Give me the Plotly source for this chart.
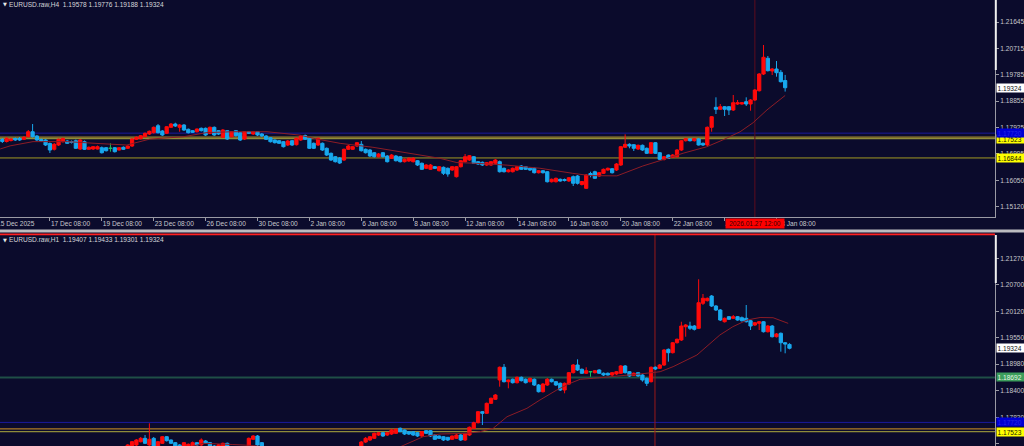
import plotly.graph_objects as go

# ---------------- H4 pane data (EURUSD.raw, H4) ----------------
h4_open = [1.17512, 1.17495, 1.17424, 1.17460, 1.17530, 1.17530, 1.17502, 1.17594, 1.17770, 1.17618,
           1.17495, 1.17477, 1.17354, 1.17149, 1.17301, 1.17417, 1.17441, 1.17424, 1.17452, 1.17159,
           1.17417, 1.17149, 1.17159, 1.17159, 1.17206, 1.17206, 1.17184, 1.17206, 1.17124, 1.17220,
           1.17184, 1.17265, 1.17502, 1.17523, 1.17594, 1.17689, 1.17735, 1.17982, 1.17795, 1.17714,
           1.17926, 1.18042, 1.17926, 1.18007, 1.17855, 1.17806, 1.17770, 1.17890, 1.17890, 1.17714,
           1.17926, 1.17806, 1.17572, 1.17806, 1.17594, 1.17806, 1.17735, 1.17512, 1.17770, 1.17689,
           1.17770, 1.17689, 1.17618, 1.17558, 1.17477, 1.17452, 1.17417, 1.17301, 1.17452, 1.17311,
           1.17477, 1.17636, 1.17537, 1.17361, 1.17301, 1.17361, 1.17184, 1.17007, 1.16887, 1.16841,
           1.16771, 1.17149, 1.17149, 1.17265, 1.17325, 1.17149, 1.17124, 1.17028, 1.16887, 1.17028,
           1.16912, 1.16831, 1.16912, 1.16887, 1.16711, 1.16736, 1.16711, 1.16746, 1.16655, 1.16478,
           1.16442, 1.16534, 1.16393, 1.16513, 1.16478, 1.16418, 1.16181, 1.16534, 1.16711, 1.16771,
           1.16887, 1.16711, 1.16690, 1.16594, 1.16594, 1.16655, 1.16711, 1.16478, 1.16357, 1.16357,
           1.16418, 1.16559, 1.16534, 1.16478, 1.16478, 1.16322, 1.16393, 1.16357, 1.16004, 1.16004,
           1.16089, 1.16082, 1.16029, 1.16181, 1.16206, 1.15905, 1.15771, 1.16294, 1.16357, 1.16206,
           1.16301, 1.16418, 1.16463, 1.16418, 1.16594, 1.17220, 1.17325, 1.17311, 1.17159, 1.17290,
           1.17184, 1.17007, 1.17382, 1.17028, 1.16796, 1.16947, 1.16866, 1.16887, 1.17124, 1.17452,
           1.17512, 1.17452, 1.17512, 1.17361, 1.17301, 1.17926, 1.18632, 1.18562, 1.18653, 1.18653,
           1.18537, 1.18749, 1.18749, 1.18830, 1.18749, 1.18890, 1.19218, 1.19808, 1.20363, 1.19914,
           1.19985, 1.19868, 1.19578]
h4_high = [1.17548, 1.17548, 1.17583, 1.17548, 1.17565, 1.17583, 1.17618, 1.17830, 1.18042, 1.17654,
           1.17530, 1.17512, 1.17389, 1.17371, 1.17530, 1.17565, 1.17477, 1.17460, 1.17495, 1.17512,
           1.17460, 1.17248, 1.17265, 1.17283, 1.17248, 1.17230, 1.17361, 1.17230, 1.17230, 1.17248,
           1.17283, 1.17548, 1.17601, 1.17654, 1.17742, 1.17813, 1.17954, 1.18042, 1.17830, 1.17972,
           1.18078, 1.18088, 1.18042, 1.18042, 1.17883, 1.17830, 1.17883, 1.17919, 1.17919, 1.17954,
           1.17954, 1.17830, 1.17866, 1.17830, 1.17795, 1.17830, 1.17760, 1.17795, 1.17795, 1.17795,
           1.17795, 1.17724, 1.17654, 1.17583, 1.17495, 1.17477, 1.17441, 1.17477, 1.17477, 1.17565,
           1.17654, 1.17671, 1.17565, 1.17389, 1.17565, 1.17389, 1.17213, 1.17036, 1.16912, 1.16877,
           1.17177, 1.17301, 1.17265, 1.17407, 1.17441, 1.17177, 1.17159, 1.17053, 1.17018, 1.17053,
           1.16947, 1.16982, 1.16947, 1.16912, 1.16824, 1.16859, 1.16877, 1.16771, 1.16683, 1.16630,
           1.16630, 1.16559, 1.16559, 1.16541, 1.16506, 1.16559, 1.16559, 1.16771, 1.16982, 1.16947,
           1.16912, 1.16736, 1.16718, 1.16700, 1.16736, 1.16806, 1.16753, 1.16506, 1.16453, 1.16506,
           1.16559, 1.16594, 1.16559, 1.16506, 1.16506, 1.16418, 1.16418, 1.16382, 1.16117, 1.16152,
           1.16117, 1.16117, 1.16170, 1.16223, 1.16241, 1.16029, 1.16276, 1.16357, 1.16393, 1.16347,
           1.16470, 1.16506, 1.16488, 1.16665, 1.17265, 1.17679, 1.17361, 1.17336, 1.17318, 1.17318,
           1.17213, 1.17407, 1.17407, 1.17053, 1.16912, 1.16965, 1.16982, 1.17159, 1.17477, 1.17548,
           1.17548, 1.17548, 1.17548, 1.17389, 1.17954, 1.18325, 1.18985, 1.18749, 1.18678, 1.18678,
           1.19067, 1.18890, 1.18819, 1.18985, 1.18925, 1.19279, 1.19844, 1.20833, 1.20444, 1.20020,
           1.20268, 1.19950, 1.19776]
h4_low = [1.17371, 1.17371, 1.17389, 1.17424, 1.17441, 1.17441, 1.17477, 1.17565, 1.17565, 1.17441,
          1.17407, 1.17265, 1.17018, 1.17106, 1.17265, 1.17389, 1.17336, 1.17354, 1.17159, 1.17124,
          1.17124, 1.17124, 1.17124, 1.17142, 1.17000, 1.17071, 1.17064, 1.17036, 1.17106, 1.17124,
          1.17159, 1.17230, 1.17477, 1.17495, 1.17565, 1.17654, 1.17707, 1.17707, 1.17618, 1.17689,
          1.17901, 1.17936, 1.17770, 1.17795, 1.17707, 1.17724, 1.17742, 1.17778, 1.17618, 1.17689,
          1.17618, 1.17654, 1.17548, 1.17477, 1.17565, 1.17601, 1.17441, 1.17477, 1.17689, 1.17654,
          1.17618, 1.17583, 1.17477, 1.17389, 1.17354, 1.17336, 1.17213, 1.17265, 1.17265, 1.17283,
          1.17441, 1.17477, 1.17159, 1.17159, 1.17265, 1.17089, 1.16912, 1.16736, 1.16683, 1.16630,
          1.16736, 1.17124, 1.17124, 1.17230, 1.17071, 1.17000, 1.16877, 1.16859, 1.16859, 1.16859,
          1.16683, 1.16806, 1.16718, 1.16683, 1.16683, 1.16700, 1.16683, 1.16559, 1.16418, 1.16453,
          1.16418, 1.16453, 1.16365, 1.16241, 1.16181, 1.16382, 1.16152, 1.16506, 1.16683, 1.16736,
          1.16630, 1.16594, 1.16559, 1.16559, 1.16559, 1.16630, 1.16329, 1.16329, 1.16329, 1.16329,
          1.16382, 1.16418, 1.16418, 1.16382, 1.16294, 1.16294, 1.16294, 1.15976, 1.15976, 1.15976,
          1.16004, 1.16011, 1.15994, 1.15852, 1.15905, 1.15870, 1.15747, 1.16159, 1.16099, 1.16170,
          1.16276, 1.16393, 1.16294, 1.16382, 1.16559, 1.17195, 1.17184, 1.17089, 1.17124, 1.17089,
          1.16982, 1.16982, 1.16982, 1.16771, 1.16753, 1.16806, 1.16841, 1.16859, 1.17089, 1.17424,
          1.17424, 1.17424, 1.17283, 1.17265, 1.17265, 1.17770, 1.18396, 1.18537, 1.18325, 1.18360,
          1.18501, 1.18713, 1.18724, 1.18678, 1.18512, 1.18855, 1.19190, 1.19773, 1.19897, 1.19773,
          1.19713, 1.19508, 1.19188]
h4_close = [1.17441, 1.17424, 1.17530, 1.17512, 1.17477, 1.17477, 1.17572, 1.17770, 1.17594, 1.17477,
            1.17441, 1.17301, 1.17124, 1.17325, 1.17502, 1.17530, 1.17361, 1.17389, 1.17184, 1.17477,
            1.17149, 1.17220, 1.17241, 1.17241, 1.17028, 1.17099, 1.17184, 1.17064, 1.17206, 1.17149,
            1.17265, 1.17512, 1.17572, 1.17629, 1.17714, 1.17785, 1.17926, 1.17735, 1.17654, 1.17947,
            1.18042, 1.17972, 1.18007, 1.17830, 1.17735, 1.17749, 1.17866, 1.17806, 1.17654, 1.17926,
            1.17654, 1.17689, 1.17830, 1.17512, 1.17770, 1.17629, 1.17477, 1.17770, 1.17714, 1.17770,
            1.17654, 1.17618, 1.17502, 1.17417, 1.17382, 1.17361, 1.17241, 1.17441, 1.17301, 1.17537,
            1.17618, 1.17502, 1.17184, 1.17184, 1.17537, 1.17124, 1.16947, 1.16771, 1.16711, 1.16665,
            1.17149, 1.17265, 1.17241, 1.17382, 1.17099, 1.17028, 1.16912, 1.16887, 1.16982, 1.16887,
            1.16711, 1.16947, 1.16746, 1.16711, 1.16796, 1.16831, 1.16831, 1.16594, 1.16442, 1.16594,
            1.16594, 1.16478, 1.16534, 1.16301, 1.16276, 1.16534, 1.16534, 1.16746, 1.16887, 1.16923,
            1.16655, 1.16630, 1.16594, 1.16676, 1.16711, 1.16771, 1.16357, 1.16357, 1.16418, 1.16478,
            1.16534, 1.16442, 1.16442, 1.16418, 1.16322, 1.16393, 1.16322, 1.16004, 1.16089, 1.16124,
            1.16029, 1.16046, 1.16145, 1.15948, 1.15948, 1.16011, 1.16241, 1.16223, 1.16124, 1.16322,
            1.16442, 1.16478, 1.16322, 1.16630, 1.17241, 1.17325, 1.17265, 1.17184, 1.17290, 1.17124,
            1.17007, 1.17382, 1.17007, 1.16796, 1.16887, 1.16831, 1.16947, 1.17124, 1.17452, 1.17523,
            1.17452, 1.17523, 1.17301, 1.17301, 1.17926, 1.18300, 1.18562, 1.18653, 1.18562, 1.18537,
            1.18795, 1.18795, 1.18795, 1.18749, 1.18890, 1.19243, 1.19808, 1.20398, 1.19925, 1.19985,
            1.19854, 1.19536, 1.19324]
h4_tick_bar = [12, 24, 36, 48, 60, 72, 84, 96, 108, 120, 132, 144, 156, 168, 180]
h4_tick_text = ["17 Dec 08:00", "19 Dec 08:00", "23 Dec 08:00", "26 Dec 08:00", "30 Dec 08:00",
                "2 Jan 08:00", "6 Jan 08:00", "8 Jan 08:00", "12 Jan 08:00", "14 Jan 08:00",
                "16 Jan 08:00", "20 Jan 08:00", "22 Jan 08:00", "26 Jan 08:00", "28 Jan 08:00"]
h4_price_ticks = [1.21645, 1.20715, 1.19785, 1.18855, 1.17925, 1.16995, 1.16050, 1.15120]
h4_ma_bar = [0.5, 2.8, 8.1, 16, 23.6, 29.8, 35.1, 42.8, 48.3, 54.3, 62.2, 65.9, 69.8, 73.8, 79.1,
             86.7, 94.6, 102.2, 106.1, 109.8, 117.7, 125.3, 132.9, 136.9, 143.1, 149.1, 153.1,
             158.4, 163.9, 167.6, 171.6, 174.6, 177.8, 182]
h4_ma = [1.1716, 1.1727, 1.1742, 1.1742, 1.1735, 1.1730, 1.1751, 1.1759, 1.1774, 1.1777, 1.1777,
         1.1772, 1.1765, 1.1751, 1.1736, 1.1722, 1.1701, 1.1683, 1.1668, 1.1666, 1.1659, 1.1648,
         1.1630, 1.1622, 1.1621, 1.1656, 1.1675, 1.1701, 1.1724, 1.1748, 1.1777, 1.1809, 1.1854, 1.1905]

# ---------------- H1 pane data (EURUSD.raw, H1) ----------------
h1_bar = list(range(30, 54)) + list(range(58, 62)) + list(range(84, 184))
h1_open = [1.17167, 1.17210, 1.17232, 1.17303, 1.17376, 1.17232, 1.17376, 1.17210, 1.17268, 1.17411,
           1.17340, 1.17282, 1.17232, 1.17210, 1.17210, 1.17210, 1.17282, 1.17232, 1.17318, 1.17282,
           1.17210, 1.17210, 1.17210, 1.17268,
           1.17210, 1.17355, 1.17426, 1.17282,
           1.17189, 1.17296, 1.17340, 1.17376, 1.17448, 1.17498, 1.17448, 1.17469, 1.17484, 1.17593,
           1.17556, 1.17519, 1.17519, 1.17498, 1.17426, 1.17541, 1.17541, 1.17448, 1.17426, 1.17411,
           1.17398, 1.17355, 1.17376, 1.17448, 1.17340, 1.17448, 1.17593, 1.17714, 1.17952, 1.17917,
           1.18133, 1.18220, 1.18638, 1.18913, 1.18601, 1.18653, 1.18579, 1.18696, 1.18653, 1.18601,
           1.18653, 1.18529, 1.18384, 1.18529, 1.18653, 1.18601, 1.18566, 1.18421, 1.18551, 1.18796,
           1.18962, 1.18869, 1.18783, 1.18817, 1.18796, 1.18854, 1.18783, 1.18783, 1.18746, 1.18768,
           1.18783, 1.18941, 1.18817, 1.18739, 1.18796, 1.18746, 1.18674, 1.18601, 1.18913, 1.18891,
           1.18962, 1.19301, 1.19228, 1.19444, 1.19503, 1.19790, 1.19805, 1.19805, 1.19756, 1.20296,
           1.20353, 1.20454, 1.20238, 1.20152, 1.19898, 1.20007, 1.19972, 1.20007, 1.19985, 1.19972,
           1.19920, 1.19827, 1.19863, 1.19898, 1.19682, 1.19805, 1.19574, 1.19648, 1.19444, 1.19407]
h1_high = [1.17253, 1.17318, 1.17361, 1.17405, 1.17448, 1.17701, 1.17405, 1.17318, 1.17426, 1.17426,
           1.17351, 1.17296, 1.17253, 1.17296, 1.17264, 1.17307, 1.17296, 1.17376, 1.17340, 1.17296,
           1.17232, 1.17253, 1.17285, 1.17285,
           1.17394, 1.17448, 1.17448, 1.17296,
           1.17318, 1.17405, 1.17426, 1.17501, 1.17513, 1.17513, 1.17513, 1.17578, 1.17588, 1.17610,
           1.17567, 1.17534, 1.17534, 1.17513, 1.17534, 1.17556, 1.17556, 1.17469, 1.17437, 1.17426,
           1.17405, 1.17437, 1.17469, 1.17469, 1.17491, 1.17632, 1.17736, 1.17967, 1.17967, 1.18150,
           1.18259, 1.18335, 1.18930, 1.18984, 1.18649, 1.18670, 1.18713, 1.18713, 1.18670, 1.18692,
           1.18670, 1.18551, 1.18573, 1.18681, 1.18670, 1.18616, 1.18584, 1.18584, 1.18811, 1.18984,
           1.19085, 1.18887, 1.18913, 1.18822, 1.18854, 1.18869, 1.18800, 1.18800, 1.18811, 1.18832,
           1.18962, 1.18962, 1.18832, 1.18800, 1.18811, 1.18768, 1.18692, 1.18930, 1.18930, 1.18984,
           1.19308, 1.19319, 1.19459, 1.19535, 1.19898, 1.19848, 1.19898, 1.19827, 1.20816, 1.20498,
           1.20422, 1.20476, 1.20260, 1.20173, 1.19989, 1.20022, 1.20044, 1.20022, 1.20011, 1.20260,
           1.19935, 1.19891, 1.19913, 1.19913, 1.19827, 1.19827, 1.19654, 1.19665, 1.19459, 1.19433]
h1_low = [1.17145, 1.17189, 1.17210, 1.17286, 1.17253, 1.17210, 1.17189, 1.17189, 1.17253, 1.17307,
          1.17253, 1.17189, 1.17145, 1.17189, 1.17189, 1.17189, 1.17210, 1.17210, 1.17253, 1.17189,
          1.17145, 1.17189, 1.17189, 1.17189,
          1.17189, 1.17340, 1.17210, 1.17189,
          1.17167, 1.17275, 1.17318, 1.17361, 1.17426, 1.17405, 1.17426, 1.17448, 1.17469, 1.17513,
          1.17448, 1.17448, 1.17426, 1.17405, 1.17405, 1.17469, 1.17405, 1.17340, 1.17361, 1.17318,
          1.17318, 1.17340, 1.17361, 1.17318, 1.17318, 1.17426, 1.17578, 1.17697, 1.17664, 1.17902,
          1.18118, 1.18205, 1.18493, 1.18584, 1.18458, 1.18562, 1.18562, 1.18606, 1.18562, 1.18584,
          1.18508, 1.18367, 1.18367, 1.18508, 1.18584, 1.18508, 1.18399, 1.18350, 1.18529, 1.18778,
          1.18832, 1.18768, 1.18768, 1.18709, 1.18778, 1.18768, 1.18724, 1.18735, 1.18724, 1.18746,
          1.18768, 1.18778, 1.18703, 1.18724, 1.18703, 1.18601, 1.18508, 1.18584, 1.18854, 1.18876,
          1.18941, 1.19034, 1.19211, 1.19427, 1.19481, 1.19574, 1.19719, 1.19708, 1.19741, 1.20260,
          1.20336, 1.20216, 1.20130, 1.19913, 1.19881, 1.19935, 1.19957, 1.19920, 1.19902, 1.19881,
          1.19719, 1.19805, 1.19719, 1.19665, 1.19665, 1.19557, 1.19557, 1.19250, 1.19215, 1.19301]
h1_close = [1.17232, 1.17303, 1.17340, 1.17376, 1.17268, 1.17355, 1.17210, 1.17303, 1.17411, 1.17325,
            1.17268, 1.17210, 1.17167, 1.17282, 1.17247, 1.17282, 1.17232, 1.17340, 1.17268, 1.17210,
            1.17167, 1.17232, 1.17268, 1.17210,
            1.17376, 1.17426, 1.17232, 1.17210,
            1.17296, 1.17376, 1.17411, 1.17484, 1.17498, 1.17426, 1.17498, 1.17556, 1.17571, 1.17519,
            1.17469, 1.17469, 1.17448, 1.17426, 1.17519, 1.17484, 1.17426, 1.17355, 1.17376, 1.17340,
            1.17340, 1.17426, 1.17448, 1.17340, 1.17484, 1.17615, 1.17714, 1.17952, 1.17917, 1.18133,
            1.18242, 1.18313, 1.18913, 1.18601, 1.18638, 1.18579, 1.18696, 1.18623, 1.18579, 1.18674,
            1.18529, 1.18384, 1.18551, 1.18653, 1.18601, 1.18529, 1.18421, 1.18566, 1.18796, 1.18962,
            1.18854, 1.18783, 1.18839, 1.18817, 1.18839, 1.18783, 1.18746, 1.18746, 1.18796, 1.18817,
            1.18941, 1.18796, 1.18724, 1.18783, 1.18724, 1.18638, 1.18566, 1.18913, 1.18876, 1.18962,
            1.19286, 1.19228, 1.19444, 1.19518, 1.19805, 1.19827, 1.19756, 1.19734, 1.20309, 1.20405,
            1.20405, 1.20238, 1.20152, 1.19935, 1.19972, 1.19951, 1.20007, 1.19935, 1.19920, 1.19898,
            1.19805, 1.19877, 1.19898, 1.19682, 1.19805, 1.19574, 1.19633, 1.19444, 1.19416, 1.19324]
h1_price_ticks = [1.21270, 1.20700, 1.20120, 1.19550, 1.18980, 1.18400, 1.17830, 1.17260]
h1_ma_bar = [44.4, 47.4, 54.3, 59.0, 62.9, None,
             92.9, 98.3, 102.2, 108.4, 111.4, 114.5, 117.7, 122.3, 125.3, 129.2, 132.3, 134.6,
             137.6, 142.2, 148.4, 153.1, 156.1, 161.6, 166.9, 169.9, 173.2, 176.2, 179.2, 182.7]
h1_ma = [1.17189, 1.17268, 1.17242, 1.17221, 1.17167, None,
         1.17189, 1.17411, 1.17469, 1.17484, 1.17519, 1.17593, 1.17844, 1.18025, 1.18205, 1.18421,
         1.18566, 1.18653, 1.18674, 1.18709, 1.18768, 1.18817, 1.18926, 1.19178, 1.19611, 1.19790,
         1.19935, 1.19989, 1.19985, 1.19863]

# ---------------- levels / labels ----------------
level_blue = 1.1772
level_orange = 1.1758
level_yellow = 1.17523
level_low = 1.16844
level_green = 1.18692
last_price = 1.19324
h4_title = "EURUSD.raw,H4\u00a0\u00a01.19578 1.19776 1.19188 1.19324"
h1_title = "EURUSD.raw,H1\u00a0\u00a01.19407 1.19433 1.19301 1.19324"
cursor_label = "2026.01.27 12:00"
first_date_label = "15 Dec 2025"
h4_cursor_bar = 175
h1_cursor_bar = 151.9

# ---------------- styling ----------------
BG = "#0b0b2c"
UP = "#ff0a0a"
DOWN = "#18a8ee"
DOJI = "#19c05a"
MA_COLOR = "#8c1c26"
TXT = "#c8c8cc"
AXIS = "#9a9aa4"
FONT = "Liberation Sans"
FS = 6.6
W, H = 1024, 446
PX = 995 / W            # right edge of the plot areas
TOP0 = 1 - 217 / H      # top pane bottom
BOT1 = 1 - 235 / H      # bottom pane top

fig = go.Figure()


def add_candles(xs, o, h, l, c, xa, ya):
    idx = [i for i in range(len(o)) if o[i] != c[i]]
    dj = [i for i in range(len(o)) if o[i] == c[i]]
    fig.add_trace(go.Candlestick(
        x=[xs[i] for i in idx], open=[o[i] for i in idx], high=[h[i] for i in idx],
        low=[l[i] for i in idx], close=[c[i] for i in idx],
        increasing=dict(line=dict(color=UP, width=1), fillcolor=UP),
        decreasing=dict(line=dict(color=DOWN, width=1), fillcolor=DOWN),
        whiskerwidth=0, xaxis=xa, yaxis=ya, hoverinfo="skip", showlegend=False))
    if dj:
        fig.add_trace(go.Candlestick(
            x=[xs[i] for i in dj], open=[o[i] for i in dj], high=[h[i] for i in dj],
            low=[l[i] for i in dj], close=[c[i] for i in dj],
            increasing=dict(line=dict(color=DOJI, width=1), fillcolor=DOJI),
            decreasing=dict(line=dict(color=DOJI, width=1), fillcolor=DOJI),
            whiskerwidth=0, xaxis=xa, yaxis=ya, hoverinfo="skip", showlegend=False))


h4_bar = list(range(len(h4_open)))
add_candles(h4_bar, h4_open, h4_high, h4_low, h4_close, "x", "y")
add_candles(h1_bar, h1_open, h1_high, h1_low, h1_close, "x2", "y2")

fig.add_trace(go.Scatter(x=h4_ma_bar, y=h4_ma, mode="lines", line=dict(color=MA_COLOR, width=1),
                         xaxis="x", yaxis="y", hoverinfo="skip", showlegend=False))
fig.add_trace(go.Scatter(x=h1_ma_bar, y=h1_ma, mode="lines", line=dict(color=MA_COLOR, width=1),
                         xaxis="x2", yaxis="y2", hoverinfo="skip", showlegend=False,
                         connectgaps=False))

xr = [0.4624, 230.52]
tickfont = dict(family=FONT, size=FS, color=TXT)
fig.update_layout(
    width=W, height=H, margin=dict(l=0, r=0, t=0, b=0, autoexpand=False),
    paper_bgcolor=BG, plot_bgcolor=BG, showlegend=False,
    boxgap=0.25, boxgroupgap=0,
    xaxis=dict(domain=[0, PX], range=xr, anchor="y", showgrid=False, zeroline=False,
               showline=True, linecolor=AXIS, linewidth=1, ticks="outside", ticklen=3,
               tickcolor=AXIS, tickvals=h4_tick_bar, ticktext=h4_tick_text, tickfont=tickfont,
               ticklabelposition="outside right", rangeslider=dict(visible=False),
               automargin=False),
    yaxis=dict(domain=[TOP0, 1], range=[1.14758, 1.22422], anchor="x", side="right",
               showgrid=False, zeroline=False, showline=True, linecolor=AXIS, linewidth=1,
               ticks="outside", ticklen=3, tickcolor=AXIS, tickvals=h4_price_ticks,
               ticktext=["%.5f" % v for v in h4_price_ticks], tickfont=tickfont,
               automargin=False),
    xaxis2=dict(domain=[0, PX], range=xr, anchor="y2", visible=False,
                rangeslider=dict(visible=False)),
    yaxis2=dict(domain=[0, BOT1], range=[1.17210, 1.21774], anchor="x2", side="right",
                showgrid=False, zeroline=False, showline=True, linecolor=AXIS, linewidth=1,
                ticks="outside", ticklen=3, tickcolor=AXIS, tickvals=h1_price_ticks,
                ticktext=["%.5f" % v for v in h1_price_ticks], tickfont=tickfont,
                automargin=False),
)

shapes = []


def hline(y, yref, color, width=1):
    shapes.append(dict(type="line", xref="paper", x0=0, x1=PX, yref=yref, y0=y, y1=y,
                       line=dict(color=color, width=width), layer="below"))


hline(level_blue, "y", "#1a1a9c")
hline(level_orange, "y", "#a08a2c", 1.2)
hline(level_yellow, "y", "#8e8c38", 1.2)
hline(level_low, "y", "#a29a22")
hline(level_green, "y2", "#1f4f46", 2)
hline(level_blue, "y2", "#1a1a9c")
hline(level_orange, "y2", "#b07c22", 1.2)
hline(level_yellow, "y2", "#8e8c3a", 1.2)

# cursor lines
shapes.append(dict(type="line", xref="x", x0=h4_cursor_bar, x1=h4_cursor_bar, yref="paper",
                   y0=TOP0, y1=1, line=dict(color="#5e0c1e", width=1), layer="below"))
shapes.append(dict(type="line", xref="x2", x0=h1_cursor_bar, x1=h1_cursor_bar, yref="paper",
                   y0=0, y1=BOT1, line=dict(color="#9a1a1a", width=1), layer="below"))
# separator between panes
shapes.append(dict(type="rect", xref="paper", x0=0, x1=1, yref="paper",
                   y0=1 - 232.4 / H, y1=1 - 229.6 / H, line=dict(width=0), fillcolor="#bcbcc0"))
shapes.append(dict(type="rect", xref="paper", x0=0, x1=PX, yref="paper",
                   y0=1 - 235.2 / H, y1=1 - 233.4 / H, line=dict(width=0), fillcolor="#ff2020"))
# white scale markers on the price axes
shapes.append(dict(type="line", xref="paper", x0=PX + 0.0008, x1=PX + 0.0008, yref="paper",
                   y0=1 - 70 / H, y1=1, line=dict(color="#f0f0f0", width=2)))
shapes.append(dict(type="line", xref="paper", x0=PX + 0.0008, x1=PX + 0.0008, yref="paper",
                   y0=1 - 283 / H, y1=BOT1, line=dict(color="#f0f0f0", width=2)))

ann = []


def price_label(text, y, yref, bg, fg):
    ann.append(dict(text=text, x=996 / W, xref="paper", xanchor="left", y=y, yref=yref,
                    yanchor="middle", showarrow=False, bgcolor=bg, borderpad=0.5, width=34,
                    align="left", font=dict(family=FONT, size=FS, color=fg)))


price_label("%.5f" % last_price, last_price, "y", "#ffffff", "#101010")
price_label("%.5f" % level_yellow, level_yellow, "y", "#ffff00", "#202000")
price_label("%.5f" % level_blue, level_blue, "y", "#0000d2", "#2626e8")
price_label("%.5f" % level_low, level_low, "y", "#ffff00", "#202000")
price_label("%.5f" % last_price, last_price, "y2", "#ffffff", "#101010")
price_label("%.5f" % level_green, level_green, "y2", "#3c9e5c", "#e4f6e4")
price_label("%.5f" % level_yellow, level_yellow, "y2", "#ffff00", "#202000")
price_label("%.5f" % level_blue, level_blue, "y2", "#0000d2", "#2626e8")

for title, ypix in ((h4_title, 4), (h1_title, 239.5)):
    ann.append(dict(text=title, x=7 / W, xref="paper", xanchor="left", y=1 - ypix / H,
                    yref="paper", yanchor="middle", showarrow=False,
                    font=dict(family=FONT, size=FS, color="#d6d6da")))
    ann.append(dict(text="\u25bc", x=0.5 / W, xref="paper", xanchor="left", y=1 - ypix / H,
                    yref="paper", yanchor="middle", showarrow=False,
                    font=dict(family="DejaVu Sans", size=5, color="#e8e8e8")))

ann.append(dict(text=first_date_label, x=0, xref="paper", xanchor="left", xshift=-5,
                y=1 - 223.5 / H, yref="paper", yanchor="middle", showarrow=False,
                font=dict(family=FONT, size=FS, color=TXT)))
ann.append(dict(text=cursor_label, x=h4_cursor_bar, xref="x", xanchor="center",
                y=1 - 223.5 / H, yref="paper", yanchor="middle", showarrow=False,
                bgcolor="#ff0000", borderpad=1, width=56,
                font=dict(family=FONT, size=FS, color="#3a0000")))

fig.update_layout(shapes=shapes, annotations=ann)
fig.write_html("out.html", config={"displayModeBar": False},
               post_script="document.body.style.margin='0';document.body.style.overflow='hidden';")
